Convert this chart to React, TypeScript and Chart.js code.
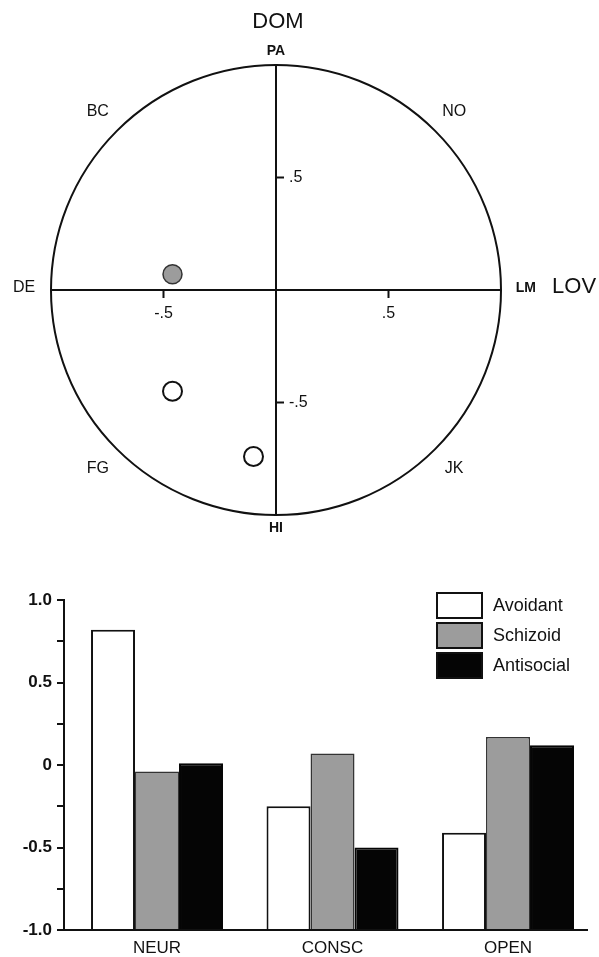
import React, { useEffect, useRef } from 'react';
import { Chart, registerables } from 'chart.js';

Chart.register(...registerables);

const FONT = '"Liberation Sans", Arial, Helvetica, sans-serif';
const INK = '#111111';

// ---------- Circumplex (top) ----------
const octantLabels = ['LM', 'NO', 'PA', 'BC', 'DE', 'FG', 'HI', 'JK'];
const octantAngles = [0, 45, 90, 135, 180, 225, 270, 315];
const axisTickValues = [-0.5, 0.5];
const axisTickLabels = ['-.5', '.5'];
const axisTitleX = 'LOV';
const axisTitleY = 'DOM';
const schizoidPoints = [{ x: -0.46, y: 0.07 }];
const openPoints = [
  { x: -0.46, y: -0.45 },
  { x: -0.1, y: -0.74 },
];

// ---------- Bar chart (bottom) ----------
const categories = ['NEUR', 'CONSC', 'OPEN'];
const seriesNames = ['Avoidant', 'Schizoid', 'Antisocial'];
const avoidantValues = [0.82, -0.25, -0.41];
const schizoidValues = [-0.04, 0.07, 0.17];
const antisocialValues = [0.01, -0.5, 0.12];
const yTickValues = [1, 0.5, 0, -0.5, -1];
const yTickLabels = ['1.0', '0.5', '0', '-0.5', '-1.0'];

const circumplexPlugin = {
  id: 'circumplex',
  beforeDatasetsDraw(chart: any) {
    const { ctx } = chart;
    const xs = chart.scales.x;
    const ys = chart.scales.y;
    const cx = xs.getPixelForValue(0);
    const cy = ys.getPixelForValue(0);
    const rx = xs.getPixelForValue(1) - cx;
    const ry = cy - ys.getPixelForValue(1);
    ctx.save();
    ctx.strokeStyle = INK;
    ctx.lineWidth = 2;
    ctx.beginPath();
    ctx.ellipse(cx, cy, rx, ry, 0, 0, Math.PI * 2);
    ctx.stroke();
    ctx.beginPath();
    ctx.moveTo(xs.getPixelForValue(-1), cy);
    ctx.lineTo(xs.getPixelForValue(1), cy);
    ctx.moveTo(cx, ys.getPixelForValue(1));
    ctx.lineTo(cx, ys.getPixelForValue(-1));
    ctx.stroke();

    // tick marks + labels
    ctx.fillStyle = INK;
    ctx.font = `16px ${FONT}`;
    axisTickValues.forEach((v, i) => {
      const px = xs.getPixelForValue(v);
      ctx.beginPath();
      ctx.moveTo(px, cy);
      ctx.lineTo(px, cy + 8);
      ctx.stroke();
      ctx.textAlign = 'center';
      ctx.textBaseline = 'middle';
      ctx.fillText(axisTickLabels[i], px, cy + 24);

      const py = ys.getPixelForValue(v);
      ctx.beginPath();
      ctx.moveTo(cx, py);
      ctx.lineTo(cx + 8, py);
      ctx.stroke();
      ctx.textAlign = 'left';
      ctx.fillText(axisTickLabels[i], cx + 13, py);
    });

    // octant labels
    octantLabels.forEach((lab, i) => {
      const a = (octantAngles[i] * Math.PI) / 180;
      const vertical = lab === 'PA' || lab === 'HI';
      const small = vertical || lab === 'LM';
      const r = vertical ? 1.06 : lab === 'LM' ? 1.11 : 1.12;
      const px = xs.getPixelForValue(r * Math.cos(a));
      const py = ys.getPixelForValue(r * Math.sin(a)) - (octantAngles[i] % 180 === 0 ? 2 : 0);
      ctx.font = small ? `bold 14px ${FONT}` : `16px ${FONT}`;
      ctx.textAlign = 'center';
      ctx.textBaseline = 'middle';
      ctx.fillText(lab, px, py);
    });

    // axis titles
    ctx.font = `22px ${FONT}`;
    ctx.textAlign = 'center';
    ctx.textBaseline = 'middle';
    ctx.fillText(axisTitleY, cx + 2, ys.getPixelForValue(1.19));
    ctx.fillText(axisTitleX, xs.getPixelForValue(1.325), cy - 3);
    ctx.restore();
  },
};

const boxLegendPlugin = {
  id: 'boxLegend',
  afterDraw(chart: any) {
    const { ctx, chartArea } = chart;
    const x0 = chartArea.right - 150;
    const y0 = chartArea.top - 7;
    ctx.save();
    chart.data.datasets.forEach((ds: any, i: number) => {
      const y = y0 + i * 30;
      ctx.fillStyle = ds.backgroundColor;
      ctx.fillRect(x0, y, 45, 25);
      ctx.strokeStyle = INK;
      ctx.lineWidth = 2;
      ctx.strokeRect(x0, y, 45, 25);
      ctx.fillStyle = INK;
      ctx.font = `18px ${FONT}`;
      ctx.textAlign = 'left';
      ctx.textBaseline = 'middle';
      ctx.fillText(ds.label, x0 + 56, y + 13);
    });
    ctx.restore();
  },
};

export default function App() {
  const topRef = useRef<HTMLCanvasElement>(null);
  const botRef = useRef<HTMLCanvasElement>(null);

  useEffect(() => {
    const scatter = new Chart(topRef.current as HTMLCanvasElement, {
      type: 'scatter',
      data: {
        datasets: [
          {
            label: 'Schizoid',
            data: schizoidPoints,
            pointRadius: 9.5,
            backgroundColor: '#9c9c9c',
            borderColor: '#333333',
            borderWidth: 1.5,
          },
          {
            label: 'Avoidant / Antisocial',
            data: openPoints,
            pointRadius: 9.5,
            backgroundColor: '#ffffff',
            borderColor: INK,
            borderWidth: 2,
          },
        ],
      },
      options: {
        responsive: false,
        animation: false,
        devicePixelRatio: 1,
        layout: { padding: { left: 51, right: 98, top: 65, bottom: 30 } },
        plugins: { legend: { display: false }, tooltip: { enabled: false } },
        scales: {
          x: { type: 'linear', min: -1, max: 1, display: false },
          y: { type: 'linear', min: -1, max: 1, display: false },
        },
      } as any,
      plugins: [circumplexPlugin],
    });

    const bars = new Chart(botRef.current as HTMLCanvasElement, {
      type: 'bar',
      data: {
        labels: categories,
        datasets: [
          {
            label: seriesNames[0],
            data: avoidantValues,
            base: -1,
            backgroundColor: '#ffffff',
            borderColor: INK,
            borderWidth: 2,
          },
          {
            label: seriesNames[1],
            data: schizoidValues,
            base: -1,
            backgroundColor: '#9c9c9c',
            borderColor: '#333333',
            borderWidth: 1.5,
          },
          {
            label: seriesNames[2],
            data: antisocialValues,
            base: -1,
            backgroundColor: '#050505',
            borderColor: '#050505',
            borderWidth: 2,
          },
        ],
      },
      options: {
        responsive: false,
        animation: false,
        devicePixelRatio: 1,
        layout: { padding: { left: 0, right: 12, top: 40, bottom: 0 } },
        plugins: { legend: { display: false }, tooltip: { enabled: false } },
        datasets: { bar: { barPercentage: 1, categoryPercentage: 0.752 } },
        scales: {
          x: {
            grid: { display: false, drawTicks: false },
            border: { display: true, color: INK, width: 2 },
            ticks: { color: INK, font: { family: FONT, size: 17 }, padding: 8 },
            afterFit: (s: any) => {
              s.height = 27;
            },
            afterBuildTicks: (s: any) => {
              s._startValue = -0.53;
              s._valueRange = 2.98;
            },
          },
          y: {
            min: -1,
            max: 1,
            ticks: {
              stepSize: 0.25,
              autoSkip: false,
              color: INK,
              padding: 5,
              font: { family: FONT, size: 17, weight: 'bold' },
              callback: (v: any) => {
                const idx = yTickValues.findIndex((t) => Math.abs(t - Number(v)) < 1e-9);
                return idx >= 0 ? yTickLabels[idx] : '';
              },
            },
            grid: { drawOnChartArea: false, drawTicks: true, tickLength: 7, color: INK, lineWidth: 2 },
            border: { display: true, color: INK, width: 2 },
            afterFit: (s: any) => {
              s.width = 64;
            },
          },
        },
      } as any,
      plugins: [boxLegendPlugin],
    });

    return () => {
      scatter.destroy();
      bars.destroy();
    };
  }, []);

  return (
    <div style={{ position: 'absolute', left: 0, top: 0, width: 599, height: 957, background: '#fff' }}>
      <canvas
        ref={topRef}
        width={599}
        height={545}
        style={{ position: 'absolute', left: 0, top: 0, width: 599, height: 545, display: 'block' }}
      />
      <canvas
        ref={botRef}
        width={599}
        height={397}
        style={{ position: 'absolute', left: 0, top: 560, width: 599, height: 397, display: 'block' }}
      />
    </div>
  );
}
